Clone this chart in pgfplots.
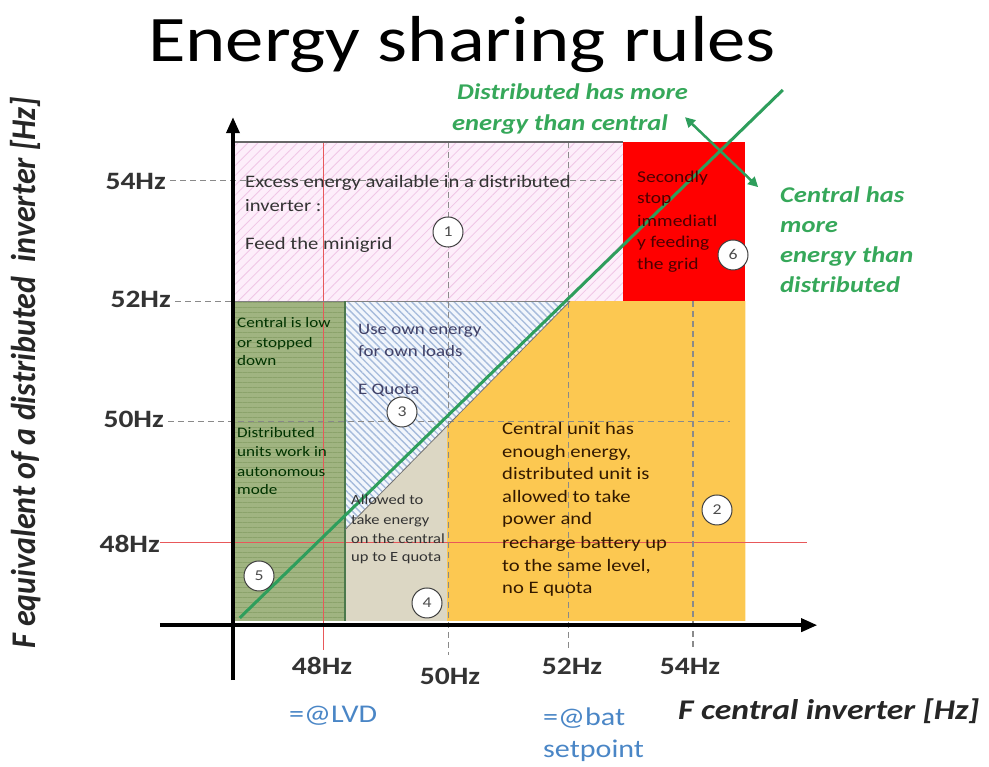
\documentclass[border=0pt]{standalone}
\usepackage{fontspec}
\setmainfont{Carlito}[FakeStretch=1.18]
\newfontfamily\plainfont{Carlito}
\usepackage{pgfplots}
\pgfplotsset{compat=1.18}
\usetikzlibrary{patterns.meta,arrows.meta}
\newcommand{\fs}[1]{\fontsize{#1}{#1}\selectfont}
\definecolor{pinkbg}{HTML}{FDEEFA}
\definecolor{pinkln}{HTML}{F0C6E6}
\definecolor{bluebg}{HTML}{F2F6FC}
\definecolor{blueln}{HTML}{A6BBDB}
\definecolor{grnbg}{HTML}{A0B481}
\definecolor{grnln}{HTML}{8BA36B}
\definecolor{tanbg}{HTML}{DCD7C4}
\definecolor{orng}{HTML}{FCC851}
\definecolor{redr}{HTML}{FF0000}
\definecolor{diag}{HTML}{2E9E5C}
\definecolor{gtext}{HTML}{36A85A}
\definecolor{lblue}{HTML}{4A86C6}
\definecolor{dashg}{HTML}{8A8A8A}
\definecolor{redln}{HTML}{E8585A}
\definecolor{txt}{HTML}{333333}
\begin{document}
\begin{tikzpicture}
\path[use as bounding box] (0,0) rectangle (989pt,767pt);
\begin{axis}[at={(0,0)}, anchor=south west, width=989pt, height=767pt, scale only axis,
  xmin=42.732, xmax=58.813, ymin=44.279, ymax=56.992, hide axis, clip=false]
% region 1 (pink, hatched)
\addplot[draw=none, fill=pinkbg, postaction={pattern={Lines[angle=45,distance=7pt,line width=0.8pt]}, pattern color=pinkln}]
  coordinates {(46.52,52.0) (52.86,52.0) (52.86,54.64) (46.52,54.64)} -- cycle;
% region 6 (red)
\addplot[draw=none, fill=redr] coordinates {(52.86,52.0) (54.85,52.0) (54.85,54.64) (52.86,54.64)} -- cycle;
% region 2 (orange)
\addplot[draw=none, fill=orng] coordinates {(50.0,46.70) (54.85,46.70) (54.85,52.0) (52.0,52.0) (50.0,49.93)} -- cycle;
% region 3 (blue, hatched)
\addplot[draw=none, fill=bluebg, postaction={pattern={Lines[angle=-45,distance=5pt,line width=1.4pt]}, pattern color=blueln}]
  coordinates {(48.34,52.0) (52.0,52.0) (48.34,48.21)} -- cycle;
% region 4 (tan)
\addplot[draw=none, fill=tanbg] coordinates {(48.34,46.70) (50.0,46.70) (50.0,49.93) (48.34,48.21)} -- cycle;
% region 5 (green)
\addplot[draw=none, fill=grnbg, postaction={pattern={Lines[angle=0,distance=5pt,line width=0.8pt]}, pattern color=grnln}]
  coordinates {(46.52,46.70) (48.34,46.70) (48.34,52.0) (46.52,52.0)} -- cycle;
% guide lines
\draw[dashg, line width=1.2pt, dash pattern=on 6pt off 4pt] (axis cs:45.50,54) -- (axis cs:52.85,54);
\draw[dashg, line width=1.2pt, dash pattern=on 6pt off 4pt] (axis cs:45.58,52) -- (axis cs:46.52,52);
\draw[dashg, line width=1.2pt, dash pattern=on 6pt off 4pt] (axis cs:45.46,50) -- (axis cs:54.60,50);
\draw[redln, line width=1pt] (axis cs:45.33,48) -- (axis cs:55.85,48);
\draw[redln, line width=1pt] (axis cs:48,54.64) -- (axis cs:48,46.22);
\draw[dashg, line width=1.2pt, dash pattern=on 6pt off 4pt] (axis cs:50.03,54.64) -- (axis cs:50.03,46.14);
\draw[dashg, line width=1.2pt, dash pattern=on 6pt off 4pt] (axis cs:51.98,54.64) -- (axis cs:51.98,46.22);
\draw[dashg, line width=1.2pt, dash pattern=on 6pt off 4pt] (axis cs:54.0,52.0) -- (axis cs:54.0,46.22);
% borders
\draw[black!60, line width=1.5pt] (axis cs:46.52,54.64) -- (axis cs:52.86,54.64);
\draw[black!50, line width=1.2pt] (axis cs:46.52,52.0) -- (axis cs:52.0,52.0);
\draw[green!25!black!70, line width=1.2pt] (axis cs:48.34,46.70) -- (axis cs:48.34,52.0);
\draw[black!55, line width=0.8pt] (axis cs:48.34,48.21) -- (axis cs:52.0,52.0);
% equal-energy line and arrow
\addplot[diag, line width=3pt] coordinates {(46.63,46.75) (55.46,55.50)};
\draw[diag, line width=2.5pt, {Triangle[length=10pt,width=10pt]}-{Triangle[length=10pt,width=10pt]}] (axis cs:53.87,55.05) -- (axis cs:55.06,53.89);
% axes
\draw[black, line width=3.5pt, -{Triangle[length=16pt,width=13pt]}] (axis cs:46.52,45.72) -- (axis cs:46.52,55.05);
\draw[black, line width=3.5pt, -{Triangle[length=16pt,width=13pt]}] (axis cs:45.33,46.63) -- (axis cs:56.02,46.63);
\end{axis}
\begin{scope}[shift={(0pt,767pt)}, x=1pt, y=-1pt]
\node[anchor=base, font=\fs{65}, inner sep=0] at (462,62) {Energy sharing rules};
% tick labels
\begin{scope}[every node/.style={inner sep=0, font=\bfseries\fs{25}, text=txt}]
\node[anchor=base east] at (166,190) {54Hz};
\node[anchor=base east] at (171,308) {52Hz};
\node[anchor=base east] at (164,428) {50Hz};
\node[anchor=base east] at (160,553) {48Hz};
\node[anchor=base] at (322,675) {48Hz};
\node[anchor=base] at (450,685) {50Hz};
\node[anchor=base] at (572,675) {52Hz};
\node[anchor=base] at (690,675) {54Hz};
\end{scope}
\begin{scope}[every node/.style={inner sep=0, font=\fs{25.5}, text=lblue}]
\node[anchor=base west] at (289,723) {=@LVD};
\node[anchor=base west] at (543,726) {=@bat};
\node[anchor=base west] at (543,758) {setpoint};
\end{scope}
\node[anchor=base west, inner sep=0, font=\bfseries\itshape\fs{28.5}, text=black!85] at (678,720) {F central inverter [Hz]};
\node[xscale=1.08, rotate=90, inner sep=0, font=\plainfont\bfseries\itshape\fs{32}, text=black!85] at (26,373) {F equivalent of a distributed\ \ inverter [Hz]};
% green notes
\begin{scope}[every node/.style={inner sep=0, anchor=base west, font=\bfseries\itshape\fs{22.5}, text=gtext}]
\node at (457,100) {Distributed has more};
\node at (452,131) {energy than central};
\node at (780,203) {Central has};
\node at (780,233) {more};
\node at (780,263) {energy than};
\node at (780,293) {distributed};
\end{scope}
% region 1 text
\begin{scope}[every node/.style={inner sep=0, anchor=base west, font=\fs{17.5}, text=txt}]
\node at (245,188) {Excess energy available in a distributed};
\node at (245,212) {inverter :};
\node at (245,250) {Feed the minigrid};
\end{scope}
% region 6 text
\begin{scope}[every node/.style={inner sep=0, anchor=base west, font=\fs{16.5}, text=red!30!black}]
\node at (637,183) {Secondly};
\node at (637,204) {stop};
\node at (637,227) {immediatl};
\node at (637,248) {y feeding};
\node at (637,270) {the grid};
\end{scope}
% region 5 text
\begin{scope}[every node/.style={inner sep=0, anchor=base west, font=\fs{14.5}, text=green!20!black}]
\node at (237,328) {Central is low};
\node at (237,348) {or stopped};
\node at (237,366) {down};
\node at (237,438) {Distributed};
\node at (237,457) {units work in};
\node at (237,477) {autonomous};
\node at (237,495) {mode};
\end{scope}
% region 3 text
\begin{scope}[every node/.style={inner sep=0, anchor=base west, font=\fs{16}, text=blue!20!black!75}]
\node at (358,335) {Use own energy};
\node at (358,357) {for own loads};
\node at (358,395) {E Quota};
\end{scope}
% region 4 text
\begin{scope}[every node/.style={inner sep=0, anchor=base west, font=\fs{14}, text=txt}]
\node at (351,505) {Allowed to};
\node at (351,525) {take energy};
\node at (351,544) {on the central};
\node at (351,562) {up to E quota};
\end{scope}
% region 2 text
\begin{scope}[every node/.style={inner sep=0, anchor=base west, font=\fs{17.5}, text=black!80!orange}]
\node at (502,435) {Central unit has};
\node at (502,458) {enough energy,};
\node at (502,480) {distributed unit is};
\node at (502,503) {allowed to take};
\node at (502,525) {power and};
\node at (502,549) {recharge battery up};
\node at (502,572) {to the same level,};
\node at (502,594) {no E quota};
\end{scope}
% numbered circles
\begin{scope}[every node/.style={circle, draw=black!75, fill=white, line width=1pt, minimum size=30pt, inner sep=0, font=\fs{15}, text=black!70}]
\node at (448,232) {1};
\node at (717,510) {2};
\node at (402,412) {3};
\node at (427,603) {4};
\node at (259,576) {5};
\node at (733,255) {6};
\end{scope}
\end{scope}
\end{tikzpicture}
\end{document}
